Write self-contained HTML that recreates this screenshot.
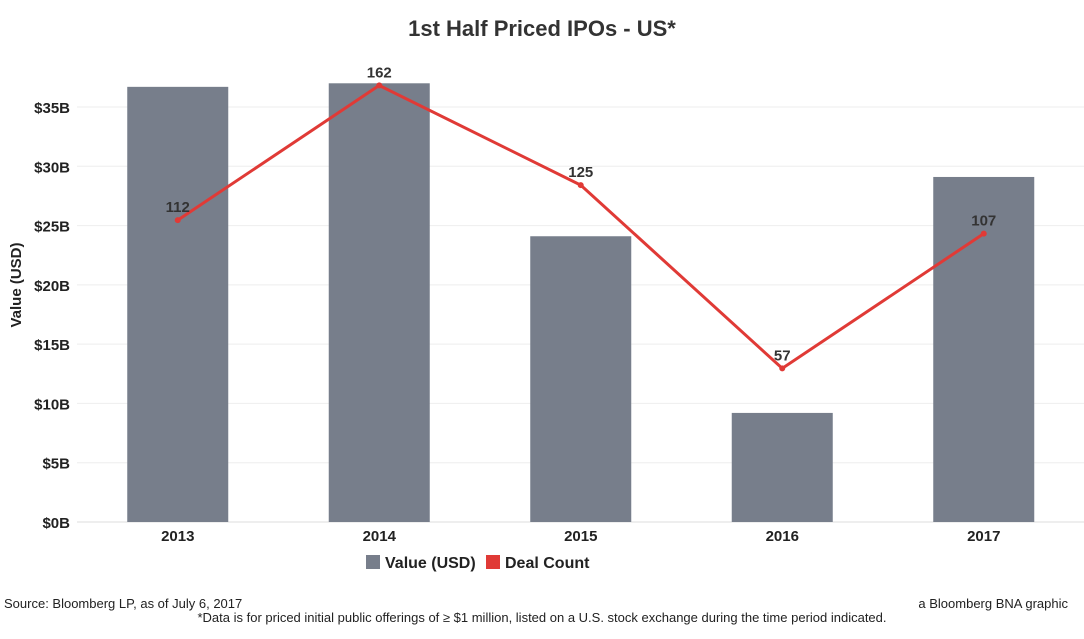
<!DOCTYPE html>
<html><head><meta charset="utf-8"><style>
body{margin:0;background:#fff;font-family:"Liberation Sans",Arial,sans-serif;}
svg text{font-family:"Liberation Sans",Arial,sans-serif;}
</style></head><body>
<svg id="c" width="1084" height="634" viewBox="0 0 1084 634">
<text x="542" y="36" text-anchor="middle" font-size="22" font-weight="bold" fill="#333">1st Half Priced IPOs - US*</text>
<text transform="translate(21,285) rotate(-90)" text-anchor="middle" font-size="15" font-weight="bold" fill="#222">Value (USD)</text>
<g id="grid"></g><g id="bars"></g><g id="line"></g><g id="labels"></g>
<g>
<rect x="366" y="555" width="14" height="14" fill="#777e8b"></rect>
<text x="385" y="568" font-size="16" font-weight="bold" fill="#222">Value (USD)</text>
<rect x="486" y="555" width="14" height="14" fill="#e03a36"></rect>
<text x="505" y="568" font-size="16" font-weight="bold" fill="#222">Deal Count</text>
</g>
<text x="4" y="608" font-size="13" fill="#222">Source: Bloomberg LP, as of July 6, 2017</text>
<text x="1068" y="608" text-anchor="end" font-size="13" fill="#222">a Bloomberg BNA graphic</text>
<text x="542" y="622" text-anchor="middle" font-size="13" fill="#222">*Data is for priced initial public offerings of ≥ $1 million, listed on a U.S. stock exchange during the time period indicated.</text>
</svg>
<script>
const categories=["2013","2014","2015","2016","2017"];
const values=[36.7,37.0,24.1,9.2,29.1];
const dealCounts=[112,162,125,57,107];
const yTicks=[0,5,10,15,20,25,30,35];
const yTickLabels=["$0B","$5B","$10B","$15B","$20B","$25B","$30B","$35B"];
const NS="http://www.w3.org/2000/svg";
const left=77,band=201.5,base=522;
const y=v=>base-v*11.857;
const y2=c=>base-c*2.695;
const xc=i=>left+band*(i+0.5);
function mk(t,a,p){const e=document.createElementNS(NS,t);for(const k in a)e.setAttribute(k,a[k]);document.getElementById(p).appendChild(e);return e;}
yTicks.forEach((t,i)=>{
 const g=mk("line",{x1:77,x2:1084,y1:y(t),y2:y(t),stroke:i==0?"#ddd":"#eee","stroke-width":1},"grid");
 
 
 const tx=mk("text",{x:70,y:y(t)+6,"text-anchor":"end","font-size":15,"font-weight":"bold",fill:"#222"},"labels");
 tx.textContent=yTickLabels[i];
 
 
});
let pts=[];
categories.forEach((c,i)=>{
 const b=mk("rect",{x:xc(i)-50.5,y:y(values[i]),width:101,height:base-y(values[i]),fill:"#777e8b"},"bars");
 
 
 const t=mk("text",{x:xc(i),y:541,"text-anchor":"middle","font-size":15,"font-weight":"bold",fill:"#222"},"labels");
 t.textContent=c;
 
 
 pts.push(xc(i)+","+y2(dealCounts[i]));
});
const pl=mk("polyline",{points:pts.join(" "),fill:"none",stroke:"#e03a36","stroke-width":3},"line");


categories.forEach((c,i)=>{
 const d=mk("circle",{cx:xc(i),cy:y2(dealCounts[i]),r:3,fill:"#e03a36"},"line");
 
 
 const t=mk("text",{x:xc(i),y:y2(dealCounts[i])-8,"text-anchor":"middle","font-size":15,"font-weight":"bold",fill:"#333"},"labels");
 t.textContent=dealCounts[i];
 
 
});
</script>
</body></html>
